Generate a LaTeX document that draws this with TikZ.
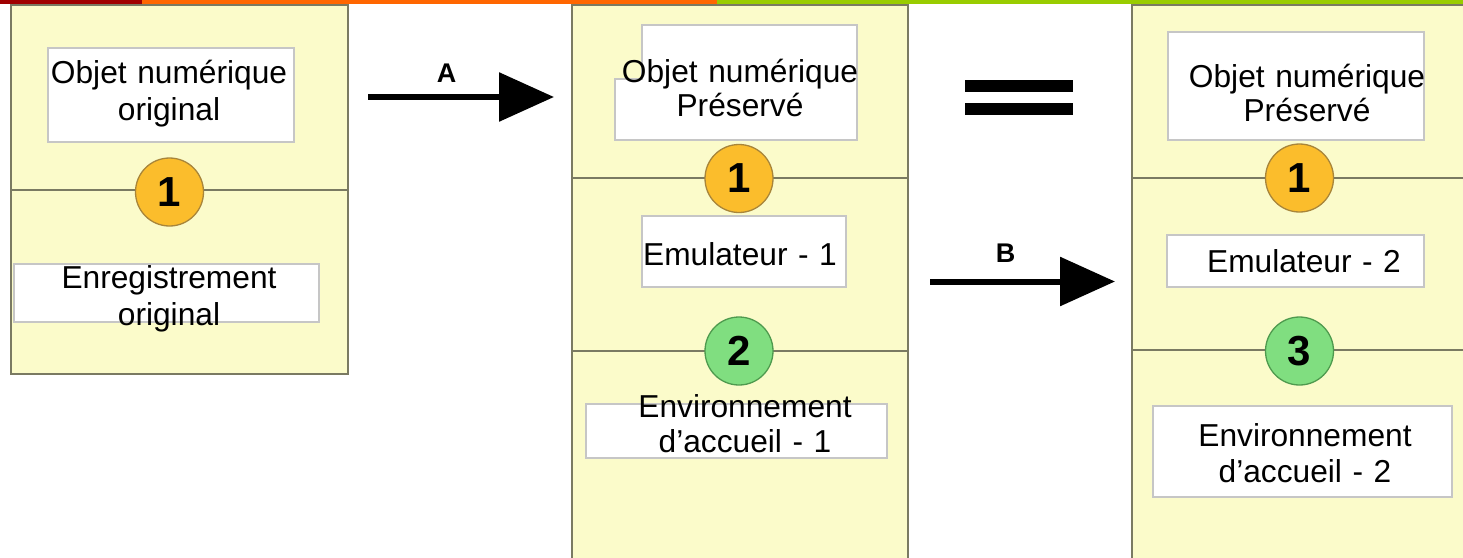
\documentclass[tikz,border=0pt]{standalone}
\usepackage{fontspec}
\setmainfont{Liberation Sans}
\usetikzlibrary{arrows.meta}

\definecolor{barred}{HTML}{A00000}
\definecolor{barorange}{HTML}{FF6600}
\definecolor{bargreen}{HTML}{99CC00}
\definecolor{colfill}{HTML}{FBFBCA}
\definecolor{colline}{HTML}{7A7A62}
\definecolor{boxline}{HTML}{C6C6C6}
\definecolor{numorange}{HTML}{FBBD2C}
\definecolor{numorangeline}{HTML}{A8853A}
\definecolor{numgreen}{HTML}{80DE80}
\definecolor{numgreenline}{HTML}{4E9A4E}

\begin{document}
\begin{tikzpicture}[x=1pt,y=-1pt,
  column/.style={fill=colfill, draw=colline, line width=2pt, inner sep=0pt,
                 anchor=north west},
  divider/.style={draw=colline, line width=2pt},
  textbox/.style={fill=white, draw=boxline, line width=1.5pt},
  label/.style={font=\fontsize{31.7}{35}\selectfont, text width=330pt,
                align=center, inner sep=0pt, anchor=base},
  wide/.style={font=\fontsize{31.7}{37}\selectfont},
  num/.style={circle, minimum size=68pt, inner sep=0pt, line width=1.3pt,
              font=\bfseries\fontsize{42}{42}\selectfont},
  stage/.style={num, fill=numorange, draw=numorangeline},
  env/.style={num, fill=numgreen, draw=numgreenline},
  flow/.style={line width=6pt, -{Triangle[length=55pt, width=48pt]}},
  flowlabel/.style={font=\bfseries\fontsize{27}{27}\selectfont, inner sep=0pt,
                    anchor=base}
]
\useasboundingbox (0,0) rectangle (1463,557);
\fill[white] (0,0) rectangle (1463,557);

% title bar
\fill[barred]    (0,0)   rectangle (142,4);
\fill[barorange] (142,0) rectangle (717,4);
\fill[bargreen]  (717,0) rectangle (1463,4);

% the three columns
\node[column, minimum width=337pt, minimum height=369pt] (col1) at (10,4) {};
\node[column, minimum width=336pt, minimum height=562pt] (col2) at (571,4) {};
\node[column, minimum width=342pt, minimum height=562pt] (col3) at (1131,4) {};

\draw[divider] (10,190) -- (347,190);
\draw[divider] (571,178) -- (907,178);
\draw[divider] (571,351) -- (907,351);
\draw[divider] (1131,178) -- (1470,178);
\draw[divider] (1131,350) -- (1470,350);

% white text boxes
\draw[textbox] (48,48) rectangle (294,142);
\draw[textbox] (14,264) rectangle (319,322);
\draw[textbox] (642,25) -- (857,25) -- (857,140) -- (615,140) -- (615,79)
               -- (642,79) -- cycle;
\draw[textbox] (642,216) rectangle (846,287);
\draw[textbox] (586,404) rectangle (887,458);
\draw[textbox] (1168,32) rectangle (1424,140);
\draw[textbox] (1167,235) rectangle (1424,287);
\draw[textbox] (1153,406) rectangle (1452,497);

% texts
\node[label, wide] (orig)    at (169,83)   {Objet numérique\\original};
\node[label, wide] (record)  at (169,288)  {Enregistrement\\original};
\node[label, font=\fontsize{31.7}{34}\selectfont] (pres1) at (740,82)
      {Objet numérique\\Préservé};
\node[label] (emu1)    at (740,265)  {Emulateur - 1};
\node[label] (host1)   at (745,417)  {Environnement\\d’accueil - 1};
\node[label, font=\fontsize{31.7}{34}\selectfont] (pres2) at (1307,87)
      {Objet numérique\\Préservé};
\node[label] (emu2)    at (1304,272) {Emulateur - 2};
\node[label, font=\fontsize{31.7}{36}\selectfont] (host2) at (1305,446)
      {Environnement\\d’accueil - 2};

% numbered markers
\node[stage] (m1a) at (169.5,192) {1};
\node[stage] (m1b) at (739,178.5) {1};
\node[env]   (m2)  at (739,351)   {2};
\node[stage] (m1c) at (1299.5,178) {1};
\node[env]   (m3)  at (1299.5,351) {3};

% transitions
\coordinate (aS) at (368,97);
\coordinate (aE) at (554,97);
\coordinate (bS) at (930,281.5);
\coordinate (bE) at (1115,281.5);
\draw[flow] (aS) -- (aE);
\draw[flow] (bS) -- (bE);
\node[flowlabel] (la) at (446.5,82) {A};
\node[flowlabel] (lb) at (1005.5,262) {B};

% equivalence sign
\fill[black] (965,80) rectangle (1073,92);
\fill[black] (965,103) rectangle (1073,115);
\end{tikzpicture}
\end{document}
